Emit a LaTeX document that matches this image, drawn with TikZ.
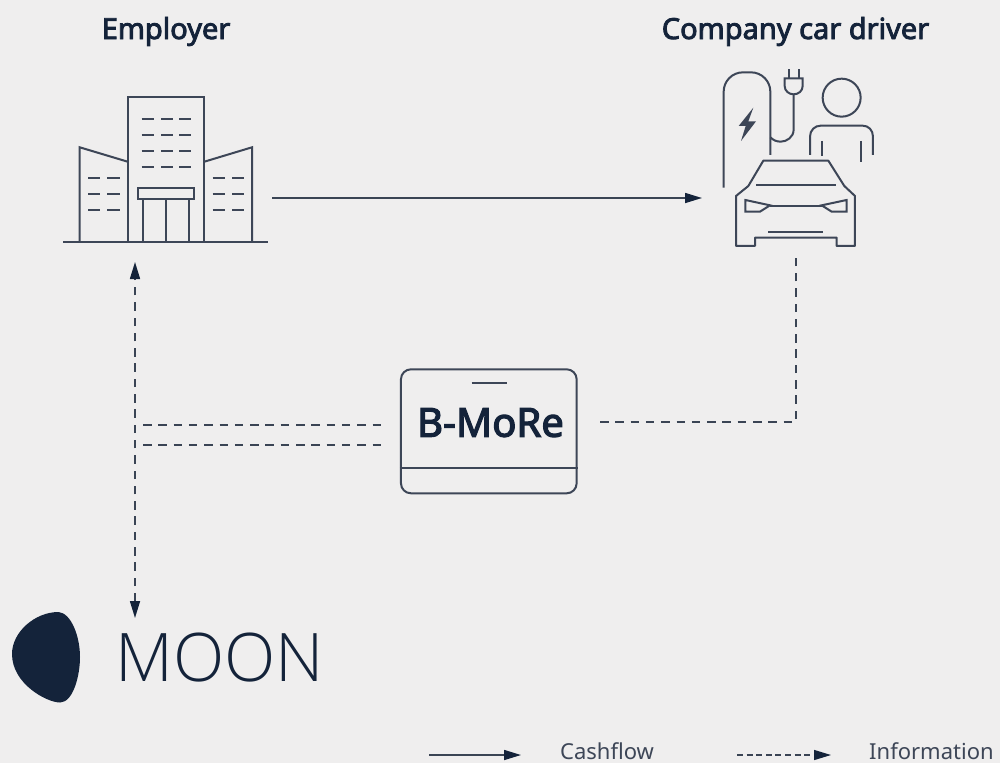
\documentclass[tikz,border=0pt]{standalone}
\usepackage{fontspec}
\setmainfont{Noto Sans}
\newfontfamily\lightf{Open Sans Light}
\newfontfamily\medf[FakeBold=3]{Noto Sans}
\usetikzlibrary{arrows.meta,calc}
\definecolor{bgc}{HTML}{EFEEEE}
\definecolor{ink}{HTML}{14233A}
\definecolor{iconc}{HTML}{3D4657}
\definecolor{linec}{HTML}{3A4454}
\tikzset{
  x=1pt,y=-1pt,
  icon/.style={draw=iconc,line width=2pt,line join=miter},
  headtip/.tip={Triangle[length=17pt,width=10pt,color=ink]},
  flow/.style={draw=linec,line width=1.6pt,-headtip},
  info/.style={draw=linec,line width=1.6pt,dash pattern=on 8.5pt off 6.8pt},
  infoarrow/.style={info,headtip-headtip},
  infoone/.style={draw=linec,line width=1.3pt,dash pattern=on 6pt off 3.6pt,-headtip},
  title/.style={text=ink,inner sep=0pt,anchor=base,font=\medf\fontsize{29}{33}\selectfont},
  legend/.style={text=iconc,inner sep=0pt,font=\fontsize{22}{26}\selectfont},
}
\begin{document}
\begin{tikzpicture}
\fill[bgc] (0,0) rectangle (1000,763);
\useasboundingbox (0,0) rectangle (1000,763);
\node[title] (employer) at (166,39) {Employer};
\node[title] (driver) at (795.5,39) {Company car driver};
% building
\begin{scope}[icon]
\draw (63,241.7) -- (268,241.7);
\draw (127.7,241.7) -- (127.7,96.7) -- (204.3,96.7) -- (204.3,241.7);
\draw (79.7,241.7) -- (79.7,147.3) -- (127.7,161.7);
\draw (252,241.7) -- (252,147.3) -- (204.3,161.7);
\draw (138.3,188.3) rectangle (194.3,198.7);
\draw (143,198.7) -- (143,241.7) (166.3,198.7) -- (166.3,241.7) (189,198.7) -- (189,241.7);
\foreach \y in {119.3,135.3,151.3,167.3}{
  \draw (141.7,\y)--(153.7,\y) (161,\y)--(173,\y) (179.3,\y)--(191.3,\y);}
\foreach \y in {178,193.7,209.7}{
  \draw (88,\y)--(100.3,\y) (107.3,\y)--(120,\y) (212.7,\y)--(224.7,\y) (232,\y)--(244,\y);}
\end{scope}
% charger, person, car
\begin{scope}[icon,shift={(690,60)},x=0.3333pt,y=-0.3333pt]
\draw (101,383) -- (101,95) .. controls (101,63) and (127,37) .. (159,37) -- (183,37) .. controls (215,37) and (241,63) .. (241,95) -- (241,285);
\fill[iconc,draw=none] (190,143) -- (146,198) -- (167,198) -- (153,243) -- (198,184) -- (175,184) -- cycle;
\draw (296,28) -- (296,55) (326,28) -- (326,55);
\draw (284,55) -- (338,55) -- (338,78) .. controls (338,93) and (325,103) .. (311,103) .. controls (297,103) and (284,93) .. (284,78) -- cycle;
\draw (311,103) -- (311,208) .. controls (311,232) and (290,245) .. (272,245) .. controls (258,245) and (250,240) .. (241,232);
\draw (455,113) ellipse[x radius=57,y radius=57];
\draw (360,285) -- (360,230) .. controls (360,210) and (375,197) .. (392,197) -- (518,197) .. controls (535,197) and (549,210) .. (549,230) -- (549,285);
\draw (395,243) -- (395,288) (512,243) -- (512,306);
\draw[line join=round] (220,302) -- (415,302) -- (463,378) -- (495,408) -- (495,558) -- (440,558) -- (440,533) -- (195,533) -- (195,558) -- (138,558) -- (138,408) -- (175,378) -- cycle;
\draw (198,376) -- (437,376);
\draw (166,420) -- (240,436) -- (210,455) -- (166,455) -- cycle;
\draw (470,420) -- (395,436) -- (425,455) -- (470,455) -- cycle;
\draw (240,437) -- (395,437);
\draw (235,516) -- (398,516);
\end{scope}
% B-MoRe
\node[icon,draw,rounded corners=10pt,minimum width=175.7pt,minimum height=124pt,inner sep=0pt] (bmore) at (488.8,431.3) {};
\node[inner sep=0pt,anchor=base,text=ink,font=\medf\fontsize{40}{44}\selectfont] (bmoretext) at (490.5,436.7) {B-MoRe};
\draw[icon] (bmore.west |- 0,468) -- (bmore.east |- 0,468);
\draw[icon] (471.7,382.7) -- (506.7,382.7);
% MOON
\fill[ink] (58.5,612) .. controls (71,613) and (80,636) .. (80,657) .. controls (80,676) and (73,702.5) .. (60,702.5) .. controls (47,702.5) and (12,684) .. (12,654) .. controls (12,632) and (35,612) .. (58.5,612) -- cycle;
\node[anchor=base west,inner sep=0pt,text=ink,font=\lightf\fontsize{67}{72}\selectfont] (moon) at (115,681.7) {MOON};
% connectors
\coordinate (empin) at (135,262);
\coordinate (moonin) at (135,618);
\coordinate (j1) at (143,425);
\coordinate (j2) at (143,445);
\coordinate (b1) at (385,425);
\coordinate (b2) at (385,445);
\coordinate (carfoot) at (796,256);
\coordinate (bout) at (600,422);
\coordinate (elbow) at (796,422);
\coordinate (carin) at (702,198);
\coordinate (bldgout) at (272,198);
\draw[flow] (bldgout) -- (carin);
\draw[infoarrow] (moonin) -- (empin);
\draw[info] (j1) -- (b1);
\draw[info] (j2) -- (b2);
\draw[info] (bout) -- (elbow) -- (carfoot);
% legend
\coordinate (l1a) at (429,755);
\coordinate (l1b) at (521,755);
\coordinate (l2a) at (737,755);
\coordinate (l2b) at (831,755);
\draw[flow] (l1a) -- (l1b);
\draw[infoone] (l2a) -- (l2b);
\node[legend,anchor=base west] (cash) at (560,759) {Cashflow};
\node[legend,anchor=base west] (infotxt) at (869,759) {Information};
\end{tikzpicture}
\end{document}
